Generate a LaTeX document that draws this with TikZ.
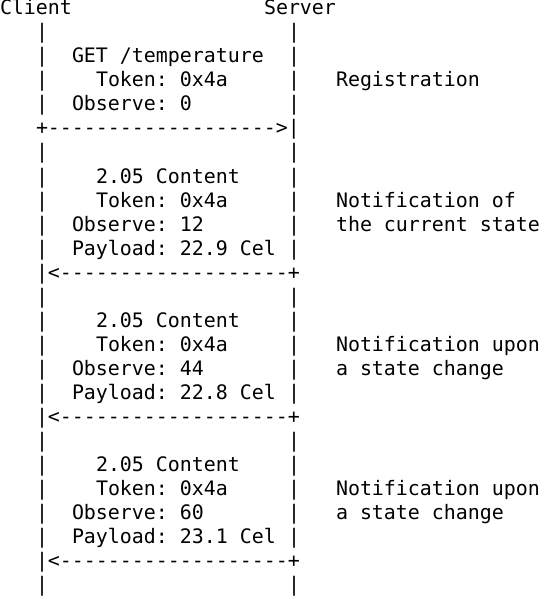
\documentclass[tikz,border=0pt]{standalone}
\usepackage{fontspec}
\setmonofont{DejaVu Sans Mono}
\tikzset{
  txt/.style={anchor=base west, inner sep=0pt, outer sep=0pt,
    font=\ttfamily\fontsize{19.93pt}{24pt}\selectfont}
}
% \cell{name}{column}{line}{text}
\newcommand\cell[4]{\node[txt] (#1) at ({#2*12pt},{-15pt-(#3-1)*24pt}) {#4};}
\begin{document}
\begin{tikzpicture}
\fill[white] (0,0) rectangle (542pt,-596pt);
\useasboundingbox (0,0) rectangle (542pt,-596pt);
% headers
\cell{client}{0}{1}{Client}
\cell{server}{22}{1}{Server}
% lifelines
\foreach \l in {2,3,4,5,7,8,9,10,11,13,14,15,16,17,19,20,21,22,23,25}{
  \cell{lp\l}{3}{\l}{|}
  \cell{rp\l}{24}{\l}{|}
}
% arrows
\cell{req}{3}{6}{+------------------->|}
\cell{resA}{3}{12}{|<-------------------+}
\cell{resB}{3}{18}{|<-------------------+}
\cell{resC}{3}{24}{|<-------------------+}
% registration request
\cell{get}{6}{3}{GET /temperature}
\cell{tok0}{8}{4}{Token: 0x4a}
\cell{obs0}{6}{5}{Observe: 0}
\cell{regl}{28}{4}{Registration}
% first notification
\cell{codeA}{8}{8}{2.05 Content}
\cell{tokA}{8}{9}{Token: 0x4a}
\cell{obsA}{6}{10}{Observe: 12}
\cell{payA}{6}{11}{Payload: 22.9 Cel}
\cell{notA1}{28}{9}{Notification of}
\cell{notA2}{28}{10}{the current state}
% second notification
\cell{codeB}{8}{14}{2.05 Content}
\cell{tokB}{8}{15}{Token: 0x4a}
\cell{obsB}{6}{16}{Observe: 44}
\cell{payB}{6}{17}{Payload: 22.8 Cel}
\cell{notB1}{28}{15}{Notification upon}
\cell{notB2}{28}{16}{a state change}
% third notification
\cell{codeC}{8}{20}{2.05 Content}
\cell{tokC}{8}{21}{Token: 0x4a}
\cell{obsC}{6}{22}{Observe: 60}
\cell{payC}{6}{23}{Payload: 23.1 Cel}
\cell{notC1}{28}{21}{Notification upon}
\cell{notC2}{28}{22}{a state change}
\end{tikzpicture}
\end{document}
